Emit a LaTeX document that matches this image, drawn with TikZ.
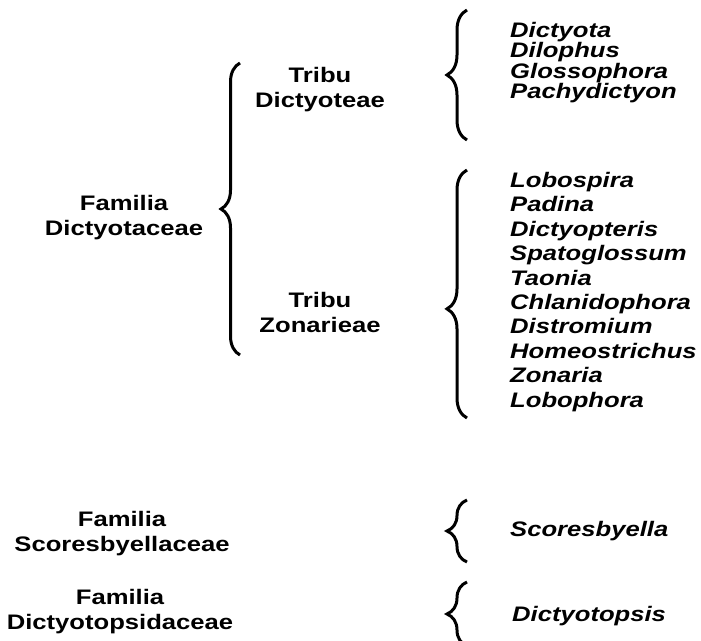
\documentclass[tikz,border=0pt]{standalone}
\usepackage{fontspec}
\setmainfont[FakeStretch=1.22]{Liberation Sans}
\usetikzlibrary{decorations.pathreplacing}

\begin{document}
\begin{tikzpicture} [
    x=1pt, y=-1pt,
    fam/.style={inner sep=0pt, anchor=north, align=center,
      font=\fontsize{21}{25.5}\selectfont\bfseries},
    genus/.style={inner sep=0pt, anchor=north west, align=left,
      font=\fontsize{21}{20.5}\selectfont\bfseries\itshape},
    brc/.style={decorate, decoration={brace, amplitude=20pt}, line width=3pt},
    ]
    \useasboundingbox (0,0) rectangle (701,640);
    % Left column
    \node[fam] (dictyotaceae) at (124,195) {Familia\\Dictyotaceae};
    \node[fam] (scoresbyellaceae) at (122,511) {Familia\\Scoresbyellaceae};
    \node[fam] (dictyotopsidaceae) at (120,589) {Familia\\Dictyotopsidaceae};
    % Middle column
    \node[fam] (dictyoteae) at (320,67) {Tribu\\Dictyoteae};
    \node[fam] (zonarieae) at (320,292) {Tribu\\Zonarieae};
    % Right column
    \node[genus] (gen1) at (510,22) {Dictyota\\Dilophus\\Glossophora\\Pachydictyon};
    \node[genus, font=\fontsize{21}{24.4}\selectfont\bfseries\itshape] (gen2) at (510,172)
      {Lobospira\\Padina\\Dictyopteris\\Spatoglossum\\Taonia\\Chlanidophora\\Distromium\\Homeostrichus\\Zonaria\\Lobophora};
    \node[genus, anchor=west] (gen3) at (510,531) {Scoresbyella};
    \node[genus, anchor=west] (gen4) at (512,616) {Dictyotopsis};
    % Braces
    \coordinate (b0top) at (240,63);  \coordinate (b0bot) at (240,355);
    \coordinate (b1top) at (467,10);  \coordinate (b1bot) at (467,140);
    \coordinate (b2top) at (467,170); \coordinate (b2bot) at (467,418);
    \coordinate (b3top) at (467,500); \coordinate (b3bot) at (467,562);
    \coordinate (b4top) at (467,582); \coordinate (b4bot) at (467,646);
    \draw[brc, decoration={amplitude=19pt}] (b0bot) -- (b0top);
    \draw[brc] (b1bot) -- (b1top);
    \draw[brc, decoration={aspect=0.44}] (b2bot) -- (b2top);
    \draw[brc] (b3bot) -- (b3top);
    \draw[brc] (b4bot) -- (b4top);
  \end{tikzpicture}
\end{document}
